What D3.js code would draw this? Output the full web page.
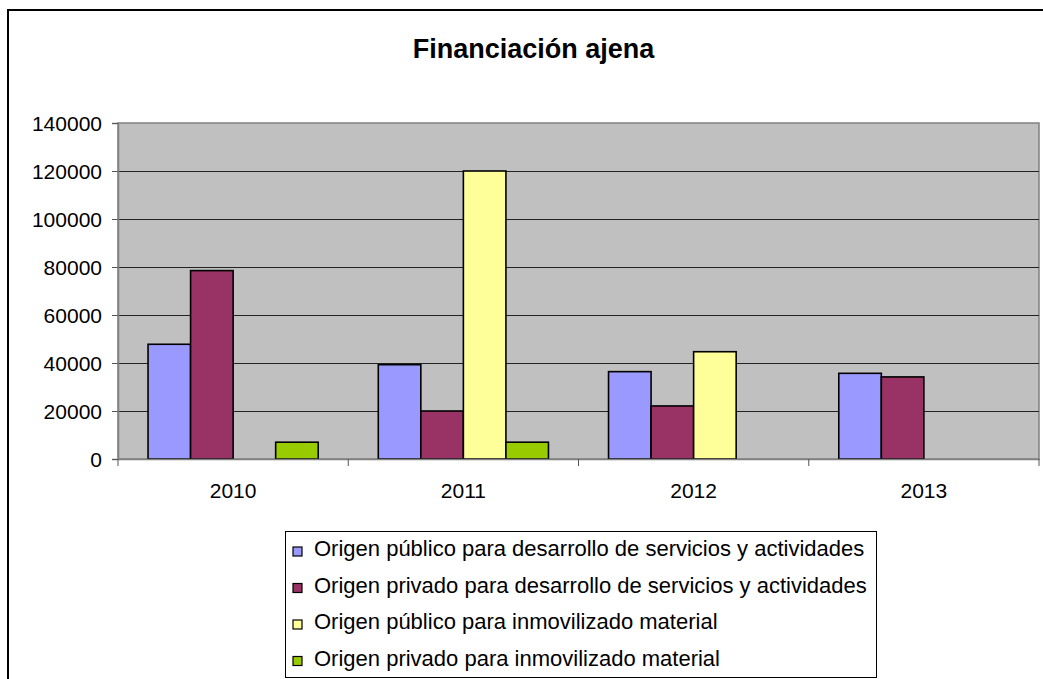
<!DOCTYPE html>
<html lang="es">
<head>
<meta charset="UTF-8">
<title>Financiación ajena</title>
<style>
  body { margin: 0; background: #fff; }
  svg text { font-family: "Liberation Sans", Arial, sans-serif; fill: #000; }
</style>
</head>
<body>
<script src="https://d3js.org/d3.v7.min.js"></script>
<script>
// datos
const years = ["2010", "2011", "2012", "2013"];
const seriesNames = [
  "Origen público para desarrollo de servicios y actividades",
  "Origen privado para desarrollo de servicios y actividades",
  "Origen público para inmovilizado material",
  "Origen privado para inmovilizado material"
];
const publicoServicios = [47800, 39300, 36400, 35700];
const privadoServicios = [78500, 20000, 22100, 34200];
const publicoInmovilizado = [0, 120000, 44700, 0];
const privadoInmovilizado = [7000, 7000, 0, 0];
const yTicks = [0, 20000, 40000, 60000, 80000, 100000, 120000, 140000];
const colors = ["#9999FF", "#993366", "#FFFF99", "#99CC00"];

const seriesValues = [publicoServicios, privadoServicios, publicoInmovilizado, privadoInmovilizado];

const W = 1043, H = 679;
const plot = {left: 118, right: 1039, top: 123, bottom: 459};

const svg = d3.select("body").append("svg")
  .attr("width", W)
  .attr("height", H);

svg.append("rect").attr("width", W).attr("height", H).attr("fill", "#fff");

// marco exterior (recortado a la derecha y abajo)
svg.append("rect")
  .attr("x", 8).attr("y", 10)
  .attr("width", 1100).attr("height", 700)
  .attr("fill", "none")
  .attr("stroke", "#000")
  .attr("stroke-width", 2);

// título
svg.append("text")
  .attr("x", 533.5).attr("y", 58)
  .attr("text-anchor", "middle")
  .style("font-size", "27px")
  .style("font-weight", "bold")
  .text("Financiación ajena");

const x = d3.scaleBand().domain(years).range([plot.left, plot.right]);
const xs = d3.scaleBand().domain(d3.range(seriesNames.length))
  .range([0, x.bandwidth()])
  .paddingOuter(0.706);
const y = d3.scaleLinear().domain([0, 140000]).range([plot.bottom, plot.top]);

// fondo del área de trazado
svg.append("rect")
  .attr("x", plot.left).attr("y", plot.top)
  .attr("width", plot.right - plot.left)
  .attr("height", plot.bottom - plot.top)
  .attr("fill", "#C0C0C0")
  .attr("stroke", "#808080")
  .attr("stroke-width", 1.5);

// líneas de división
svg.append("g")
  .selectAll("line")
  .data(yTicks.filter(d => d > 0 && d < 140000))
  .join("line")
  .attr("x1", plot.left).attr("x2", plot.right)
  .attr("y1", d => Math.round(y(d)) + 0.5)
  .attr("y2", d => Math.round(y(d)) + 0.5)
  .attr("stroke", "#222")
  .attr("stroke-width", 1);

// barras
const groups = svg.append("g")
  .selectAll("g")
  .data(years)
  .join("g")
  .attr("transform", d => `translate(${x(d)},0)`);

groups.selectAll("rect")
  .data((yr, i) => seriesValues.map((s, k) => ({k, v: s[i]})).filter(d => d.v > 0))
  .join("rect")
  .attr("x", d => xs(d.k))
  .attr("width", xs.bandwidth())
  .attr("y", d => y(d.v))
  .attr("height", d => y(0) - y(d.v))
  .attr("fill", d => colors[d.k])
  .attr("stroke", "#000")
  .attr("stroke-width", 1.6);

// eje Y
const yAxis = svg.append("g")
  .attr("transform", `translate(${plot.left},0)`)
  .call(d3.axisLeft(y).tickValues(yTicks).tickSize(6).tickPadding(10).tickFormat(d3.format("d")));
yAxis.select(".domain").attr("stroke", "#808080").attr("stroke-width", 1.5);
yAxis.selectAll(".tick line").attr("stroke", "#555");
yAxis.selectAll("text")
  .style("font-size", "21px")
  .style("font-family", "'Liberation Sans', Arial, sans-serif")
  .attr("dy", "0.35em");

// eje X
const xAxis = svg.append("g")
  .attr("transform", `translate(0,${plot.bottom})`)
  .call(d3.axisBottom(x).tickSize(0).tickPadding(24));
xAxis.select(".domain").attr("stroke", "#808080").attr("stroke-width", 1.5);
xAxis.selectAll("text")
  .style("font-size", "21px")
  .style("font-family", "'Liberation Sans', Arial, sans-serif");
xAxis.append("g")
  .selectAll("line")
  .data(years.map(d => x(d)).concat([plot.right]))
  .join("line")
  .attr("x1", d => d).attr("x2", d => d)
  .attr("y1", 0).attr("y2", 7)
  .attr("stroke", "#555");

// leyenda
const legend = svg.append("g");
legend.append("rect")
  .attr("x", 285.5).attr("y", 531.5)
  .attr("width", 591).attr("height", 146)
  .attr("fill", "#fff")
  .attr("stroke", "#000")
  .attr("stroke-width", 1);

const rows = legend.selectAll("g.row")
  .data(seriesNames)
  .join("g")
  .attr("class", "row")
  .attr("transform", (d, i) => `translate(293,${556 + i * 36.5})`);

rows.append("rect")
  .attr("x", 0).attr("y", -9)
  .attr("width", 9).attr("height", 9)
  .attr("fill", (d, i) => colors[i])
  .attr("stroke", "#000")
  .attr("stroke-width", 1.2);

rows.append("text")
  .attr("x", 21).attr("y", 0)
  .style("font-size", "22px")
  .text(d => d);
</script>
</body>
</html>
